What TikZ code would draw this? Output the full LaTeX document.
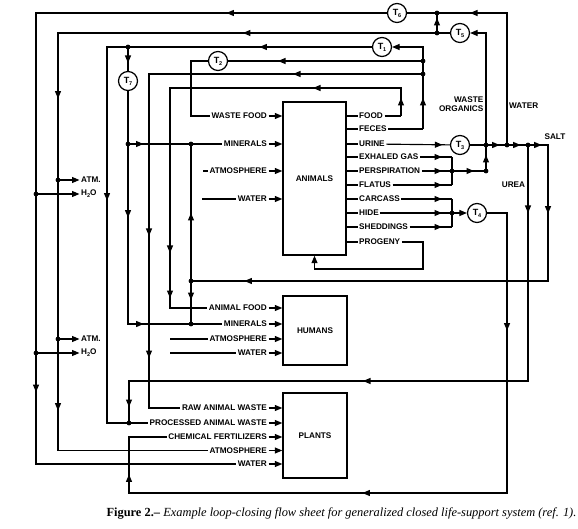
\documentclass[tikz,border=0pt]{standalone}
\usepackage{fontspec}
\setmainfont{Liberation Serif}
\newfontfamily\labfont{Liberation Sans}
\usetikzlibrary{arrows.meta,decorations.markings}
\newcommand\Tn[1]{T\kern-0.2pt\raisebox{-0.4ex}{\fontsize{5.5}{6}\selectfont #1}}
\newcommand\HtwoO{H\raisebox{-0.4ex}{\fontsize{5.5}{6}\selectfont 2}O}
\tikzset{
  ln/.style={line width=1.15pt, line join=miter},
  tip/.style={-{Triangle[length=7.5pt,width=6pt]}},
  ar/.style={postaction={decorate,decoration={markings,mark=at position #1pt with {\arrow{Triangle[length=7.5pt,width=6pt]}}}}},
  lab/.style={inner sep=1.5pt, font=\labfont\bfseries\fontsize{8.2}{9}\selectfont},
  box/.style={draw, line width=1.4pt, inner sep=0pt, lab},
  tc/.style={circle, draw, fill=white, line width=1.2pt, minimum size=19pt, inner sep=0pt, font=\labfont\bfseries\fontsize{9}{9}\selectfont},
}
\begin{document}
\begin{tikzpicture}[x=1pt,y=-1pt]
\useasboundingbox (0,0) rectangle (578,529);

% ---------- boxes
\node[box, minimum width=63pt, minimum height=153pt] (animals) at (314.5,178.5) {ANIMALS};
\node[box, minimum width=64pt, minimum height=69pt] (humans) at (315,330.5) {HUMANS};
\node[box, minimum width=64pt, minimum height=85pt] (plants) at (315,435.5) {PLANTS};

% ---------- treatment circles
\node[tc] (T1) at (382,47) {\Tn{1}};
\node[tc] (T2) at (218,61) {\Tn{2}};
\node[tc] (T3) at (460,145) {\Tn{3}};
\node[tc] (T4) at (477,213) {\Tn{4}};
\node[tc] (T5) at (460,33) {\Tn{5}};
\node[tc] (T6) at (397,13) {\Tn{6}};
\node[tc] (T7) at (128,81) {\Tn{7}};

% ---------- input labels
\node[lab, anchor=east] (aWF) at (268.5,116) {WASTE FOOD};
\node[lab, anchor=east] (aMI) at (268.5,144) {MINERALS};
\node[lab, anchor=east] (aAT) at (268.5,171) {ATMOSPHERE};
\node[lab, anchor=east] (aWA) at (268.5,199) {WATER};
\node[lab, anchor=east] (hAF) at (268.5,308) {ANIMAL FOOD};
\node[lab, anchor=east] (hMI) at (268.5,324) {MINERALS};
\node[lab, anchor=east] (hAT) at (268.5,339) {ATMOSPHERE};
\node[lab, anchor=east] (hWA) at (268.5,353) {WATER};
\node[lab, anchor=east] (pRA) at (268.5,408) {RAW ANIMAL WASTE};
\node[lab, anchor=east] (pPR) at (268.5,423) {PROCESSED ANIMAL WASTE};
\node[lab, anchor=east] (pCH) at (268.5,437) {CHEMICAL FERTILIZERS};
\node[lab, anchor=east] (pAT) at (268.5,450.5) {ATMOSPHERE};
\node[lab, anchor=east] (pWA) at (268.5,464) {WATER};

% ---------- output labels
\node[lab, anchor=west] (oFO) at (357.5,116) {FOOD};
\node[lab, anchor=west] (oFE) at (357.5,129) {FECES};
\node[lab, anchor=west] (oUR) at (357.5,144) {URINE};
\node[lab, anchor=west] (oEX) at (357.5,157) {EXHALED GAS};
\node[lab, anchor=west] (oPE) at (357.5,171) {PERSPIRATION};
\node[lab, anchor=west] (oFL) at (357.5,185) {FLATUS};
\node[lab, anchor=west] (oCA) at (357.5,199) {CARCASS};
\node[lab, anchor=west] (oHI) at (357.5,213) {HIDE};
\node[lab, anchor=west] (oSH) at (357.5,227) {SHEDDINGS};
\node[lab, anchor=west] (oPR) at (357.5,242) {PROGENY};

% ---------- side labels
\node[lab, anchor=west] (atm1) at (79.5,180) {ATM.};
\node[lab, anchor=west] (h2o1) at (79.5,194) {\HtwoO};
\node[lab, anchor=west] (atm2) at (79.5,339) {ATM.};
\node[lab, anchor=west] (h2o2) at (79.5,353) {\HtwoO};
\node[lab, anchor=east, align=right] (lWO) at (485,104) {WASTE\\ORGANICS};
\node[lab, anchor=west] (lWA) at (507.5,106) {WATER};
\node[lab] (lUR) at (513.5,185) {UREA};
\node[lab] (lSA) at (555,137) {SALT};

% ---------- coordinates
\coordinate (jW) at (507,145);  \coordinate (jO) at (486,145);
\coordinate (jU) at (528,145);  \coordinate (cS) at (548,145);
\coordinate (cS2) at (548,281); \coordinate (jS) at (191,281);
\coordinate (cW) at (507,13);   \coordinate (jT6) at (437,13);
\coordinate (jT5) at (437,33);  \coordinate (cO) at (486,33);
\coordinate (jP) at (486,171);
\coordinate (cL1) at (36,13);   \coordinate (jH1) at (36,194);
\coordinate (jH2) at (36,353);  \coordinate (cL1b) at (36,464);
\coordinate (cL2) at (58,33);   \coordinate (jA1) at (58,180);
\coordinate (jA2) at (58,339);  \coordinate (cL2b) at (58,450.5);
\coordinate (cL3) at (107,47);  \coordinate (jT7) at (128,47);
\coordinate (cL3b) at (107,423);\coordinate (jPW) at (129,423);
\coordinate (jM1) at (128,144); \coordinate (cM) at (128,324);
\coordinate (jM2) at (191,324); \coordinate (jM0) at (191,144);
\coordinate (cF) at (423,129);  \coordinate (cF0) at (423,47);
\coordinate (jF1) at (423,61);  \coordinate (jF2) at (423,74);
\coordinate (cF2) at (149,74);  \coordinate (cF2b) at (149,408);
\coordinate (cT2) at (191,61);  \coordinate (cT2b) at (191,116);
\coordinate (cFo) at (401,116); \coordinate (cFo0) at (401,88);
\coordinate (cFo1) at (170,88); \coordinate (cFo2) at (170,308);
\coordinate (cU) at (528,381);  \coordinate (cU2) at (129,381);
\coordinate (cE) at (452,157);  \coordinate (cFl) at (452,185);
\coordinate (jPe) at (452,171);
\coordinate (cC) at (452,199);  \coordinate (cSh) at (452,227);
\coordinate (jHi) at (452,213);
\coordinate (cT4) at (507,213); \coordinate (cT4b) at (507,493);
\coordinate (cT4c) at (129,493);\coordinate (cT4d) at (129,437);
\coordinate (cPr) at (423,242); \coordinate (cPr2) at (423,269);
\coordinate (sA) at (203,171);  \coordinate (sW) at (202,199);
\coordinate (sHA) at (170,339); \coordinate (sHW) at (170,353);

% ---------- water loop (T6)
\draw[ln, ar=169] (jW) -- (cW) -- (T6);
\draw[ln, ar=160.5, ar=730] (T6) -- (cL1) -- (cL1b) -- (pWA);
\draw[ln, tip] (pWA) -- (plants.west |- pWA);
% ---------- waste organics loop (T5)
\draw[ln, ar=16, tip] (jP) -- (cO) -- (T5);
\draw[ln, ar=207, ar=457.5, ar=769.5] (T5) -- (cL2) -- (cL2b) -- (pAT);
\draw[ln, tip] (pAT) -- (plants.west |- pAT);
\draw[ln, ar=15] (jT5) -- (jT6);
% ---------- T1 output
\draw[ln, ar=112.5, ar=418.5] (T1) -- (cL3) -- (cL3b) -- (jPW);
\draw[ln] (jPW) -- (pPR);
\draw[ln, tip] (pPR) -- (plants.west |- pPR);
% ---------- T7
\draw[ln, ar=16] (jT7) -- (T7);
\draw[ln, ar=126.5, ar=248.5] (T7) -- (cM) -- (jM2);
\draw[ln, ar=15.5] (jM1) -- (aMI);
\draw[ln, tip] (aMI) -- (animals.west |- aMI);
\draw[ln] (jM2) -- (hMI);
\draw[ln, tip] (hMI) -- (humans.west |- hMI);
% ---------- feces
\draw[ln] (animals.east |- oFE) -- (oFE);
\draw[ln] (oFE) -- (cF);
\draw[ln, ar=31, tip] (cF) -- (cF0) -- (T1);
\draw[ln, ar=145] (jF1) -- (T2);
\draw[ln] (T2) -- (cT2) -- (cT2b) -- (aWF);
\draw[ln, tip] (aWF) -- (animals.west |- aWF);
\draw[ln, ar=130, ar=436, ar=558] (jF2) -- (cF2) -- (cF2b) -- (pRA);
\draw[ln, tip] (pRA) -- (plants.west |- pRA);
% ---------- food
\draw[ln] (animals.east |- oFO) -- (oFO);
\draw[ln] (oFO) -- (cFo);
\draw[ln, ar=18, ar=116, ar=424, ar=469] (cFo) -- (cFo0) -- (cFo1) -- (cFo2) -- (hAF);
\draw[ln, tip] (hAF) -- (humans.west |- hAF);
% ---------- urine / salt
\draw[ln] (animals.east |- oUR) -- (oUR);
\draw[ln, ar=-7.5] (oUR) -- (T3);
\draw[ln, ar=29.5, ar=50.5, ar=71.5, ar=146.5, ar=517.5] (T3) -- (cS) -- (cS2) -- (jS);
\draw[ln, ar=68] (jS) -- (jM0);
\draw[ln, ar=19] (jS) -- (jM2);
% ---------- gases
\draw[ln] (animals.east |- oEX) -- (oEX);
\draw[ln] (animals.east |- oPE) -- (oPE);
\draw[ln] (animals.east |- oFL) -- (oFL);
\draw[ln, ar=-10] (oEX) -- (cE);
\draw[ln, ar=-10] (oPE) -- (jPe);
\draw[ln, ar=-10] (oFL) -- (cFl);
\draw[ln] (cE) -- (cFl);
\draw[ln, ar=22] (jPe) -- (jP);
% ---------- solids (T4)
\draw[ln] (animals.east |- oCA) -- (oCA);
\draw[ln] (animals.east |- oHI) -- (oHI);
\draw[ln] (animals.east |- oSH) -- (oSH);
\draw[ln, ar=-10] (oCA) -- (cC);
\draw[ln, ar=-10] (oHI) -- (jHi);
\draw[ln, ar=-10] (oSH) -- (cSh);
\draw[ln] (cC) -- (cSh);
\draw[ln, tip] (jHi) -- (T4);
\draw[ln, ar=137.5, ar=444.5, ar=696.5] (T4) -- (cT4) -- (cT4b) -- (cT4c) -- (cT4d) -- (pCH);
\draw[ln, tip] (pCH) -- (plants.west |- pCH);
% ---------- urea
\draw[ln, ar=68, ar=401, ar=661] (jU) -- (cU) -- (cU2) -- (jPW);
% ---------- progeny
\draw[ln] (animals.east |- oPR) -- (oPR);
\draw[ln, tip] (oPR) -- (cPr) -- (cPr2) -| (animals.south);
% ---------- atm / water branches
\draw[ln, tip] (jA1) -- (atm1);
\draw[ln, tip] (jH1) -- (h2o1);
\draw[ln, tip] (jA2) -- (atm2);
\draw[ln, tip] (jH2) -- (h2o2);
% ---------- free inputs
\draw[ln] (sA) -- (aAT);
\draw[ln, tip] (aAT) -- (animals.west |- aAT);
\draw[ln] (sW) -- (aWA);
\draw[ln, tip] (aWA) -- (animals.west |- aWA);
\draw[ln] (sHA) -- (hAT);
\draw[ln, tip] (hAT) -- (humans.west |- hAT);
\draw[ln] (sHW) -- (hWA);
\draw[ln, tip] (hWA) -- (humans.west |- hWA);

% ---------- junction dots
\foreach \j in {jT6,jT5,jO,jW,jU,jP,jPe,jHi,jF1,jF2,jT7,jM1,jM0,jS,jM2,jPW,jH1,jH2,jA1,jA2}
  \fill (\j) circle (2.4pt);

% ---------- caption
\node[font=\fontsize{12.4}{14}\selectfont, inner sep=0pt] (cap) at (341.5,513)
  {\textbf{Figure 2.--} \textit{Example loop-closing flow sheet for generalized closed life-support system (ref. 1).}};
\end{tikzpicture}
\end{document}
